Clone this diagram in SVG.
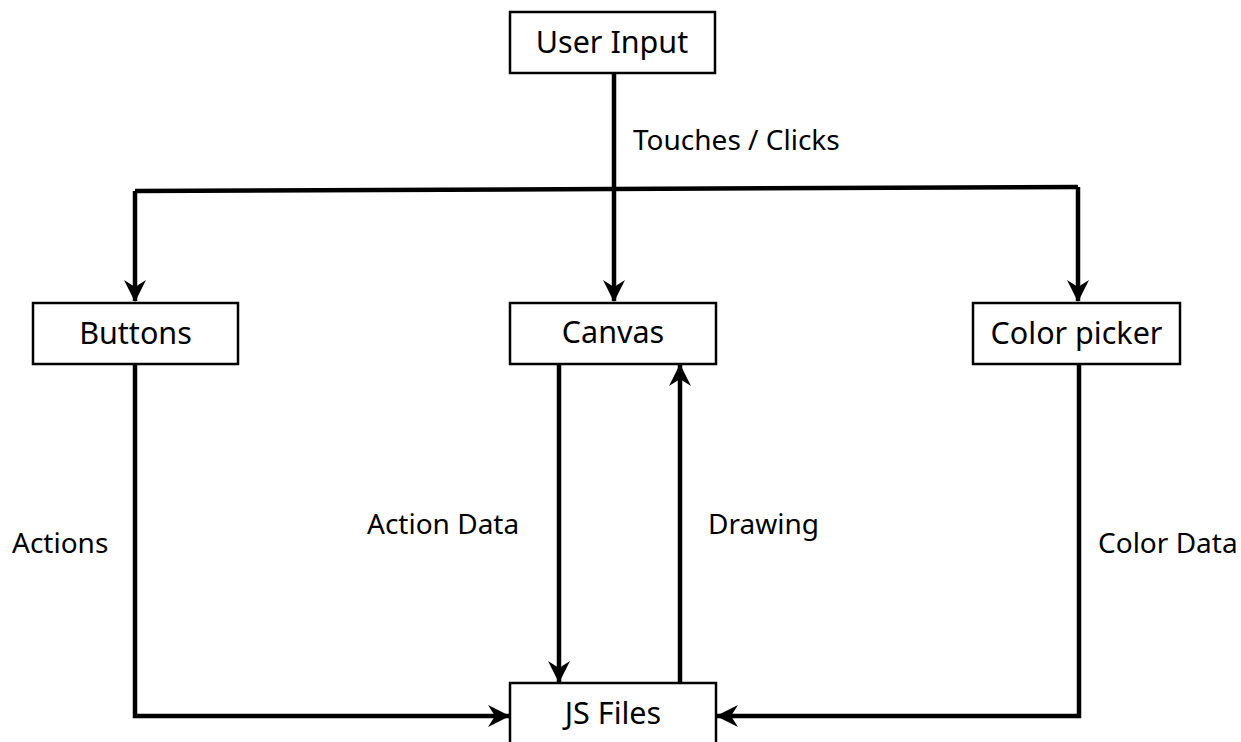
<svg xmlns="http://www.w3.org/2000/svg" width="1241" height="742" viewBox="0 0 1241 742">
<style>
.box{fill:#fff;stroke:#000;stroke-width:2.5}
.t{font-family:"Noto Sans","Open Sans",sans-serif;font-size:30.5px;fill:#000;text-anchor:middle}
.l{font-family:"Noto Sans","Open Sans",sans-serif;font-size:28px;fill:#000}
.c{fill:none;stroke:#000;stroke-width:4.5;stroke-linejoin:miter}
</style>
<defs>
<marker id="ah" viewBox="0 0 22 22" refX="21" refY="11" markerWidth="22" markerHeight="22" markerUnits="userSpaceOnUse" orient="auto">
<path d="M0,0 L22,11 L0,22 L7,11 Z" fill="#000"/>
</marker>
</defs>
<g id="connectors">
<path class="c" d="M614,73 V190"/>
<path class="c" d="M135,191 L1078,187"/>
<path class="c" d="M135,191 V301" marker-end="url(#ah)"/>
<path class="c" d="M614,190 V301" marker-end="url(#ah)"/>
<path class="c" d="M1078,187 V301" marker-end="url(#ah)"/>
<path class="c" d="M135,364 V716 H509" marker-end="url(#ah)"/>
<path class="c" d="M1079,364 V716 H717" marker-end="url(#ah)"/>
<path class="c" d="M559,364 V682" marker-end="url(#ah)"/>
<path class="c" d="M680,683 V365" marker-end="url(#ah)"/>
<text class="l" x="633" y="150">Touches / Clicks</text>
<text class="l" x="12" y="553">Actions</text>
<text class="l" x="367" y="534">Action Data</text>
<text class="l" x="708" y="534">Drawing</text>
<text class="l" x="1098" y="553">Color Data</text>
</g>
<g id="user-input"><rect class="box" x="510" y="12" width="205" height="61"/><text class="t" x="612" y="53">User Input</text></g>
<g id="buttons"><rect class="box" x="33" y="303" width="205" height="61"/><text class="t" x="135.5" y="344">Buttons</text></g>
<g id="canvas"><rect class="box" x="510" y="303" width="206" height="61"/><text class="t" x="613" y="343">Canvas</text></g>
<g id="color-picker"><rect class="box" x="973" y="303" width="207" height="61"/><text class="t" x="1076.5" y="344">Color picker</text></g>
<g id="js-files"><rect class="box" x="510" y="683" width="206" height="70"/><text class="t" x="613" y="724">JS Files</text></g>
</svg>
